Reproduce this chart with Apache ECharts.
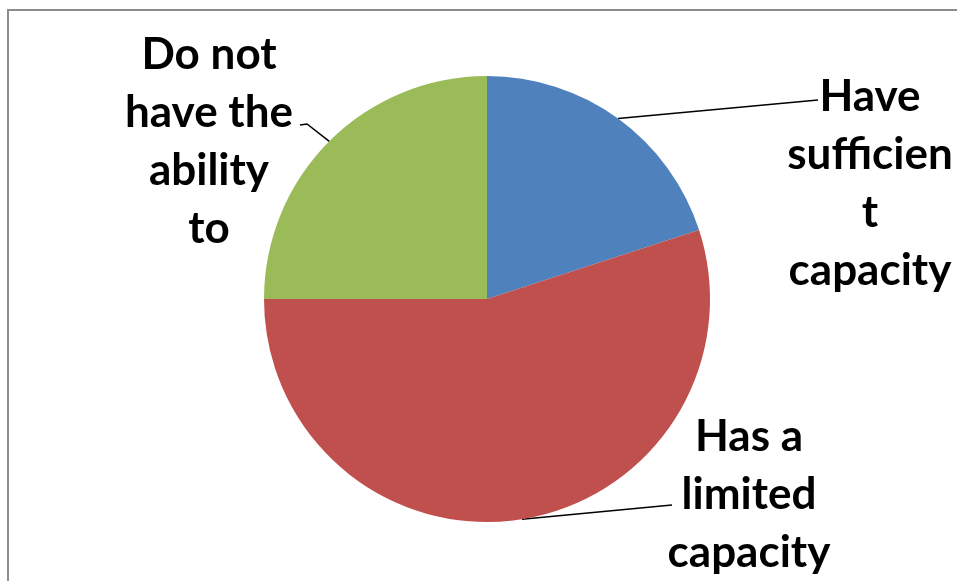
<!DOCTYPE html>
<html>
<head>
<meta charset="utf-8">
<script src="https://cdn.jsdelivr.net/npm/echarts@6/dist/echarts.min.js"></script>
<style>
html,body{margin:0;padding:0;background:#fff;}
#chart{width:957px;height:581px;}
</style>
</head>
<body>
<div id="chart"></div>
<script>
// Data
var categories = ["Have sufficient capacity", "Has a limited capacity", "Do not have the ability to"];
var labelLines = [["Have", "sufficien", "t", "capacity"], ["Has a", "limited", "capacity"], ["Do not", "have the", "ability", "to"]];
var values = [20, 55, 25];
var colors = ["#4F81BD", "#C0504D", "#9BBB59"];

// Label anchor positions (layout only)
var labelPos = [
  { x: 870, y: 68, lineEnd: [[818, 100]] },
  { x: 749, y: 408, lineEnd: [[672, 505]] },
  { x: 209, y: 26, lineEnd: [[307, 124], [300, 125]] }
];

var chart = echarts.init(document.getElementById('chart'), null, { renderer: 'canvas' });
var option = {
  backgroundColor: '#ffffff',
  animation: false,
  graphic: [{
    type: 'rect',
    shape: { x: 8, y: 10, width: 1000, height: 700 },
    style: { fill: 'none', stroke: '#8c8c8c', lineWidth: 2 },
    silent: true
  }],
  series: [{
    type: 'pie',
    center: [487, 299],
    radius: 223,
    startAngle: 90,
    clockwise: true,
    label: {
      show: true,
      position: 'outside',
      formatter: function (p) { return labelLines[p.dataIndex].join('\n'); },
      fontFamily: 'Lato, "Open Sans", sans-serif',
      fontWeight: 'bold',
      fontSize: 44,
      lineHeight: 58,
      color: '#000',
      align: 'center'
    },
    labelLine: {
      show: true,
      lineStyle: { color: '#000', width: 1.5 },
      smooth: false
    },
    labelLayout: function (params) {
      var i = params.dataIndex;
      var lp = labelPos[i];
      var start = params.labelLinePoints ? params.labelLinePoints[0] : null;
      var pts = start ? [start].concat(lp.lineEnd) : null;
      var res = { x: lp.x, y: lp.y, align: 'center', verticalAlign: 'top' };
      if (pts) {
        if (pts.length === 2) pts.push(pts[1].slice());
        res.labelLinePoints = pts.slice(0, 3);
      }
      return res;
    },
    itemStyle: { borderWidth: 0 },
    emphasis: { disabled: true },
    data: categories.map(function (c, i) {
      return { name: c, value: values[i], itemStyle: { color: colors[i] } };
    })
  }]
};
chart.setOption(option);
</script>
</body>
</html>
